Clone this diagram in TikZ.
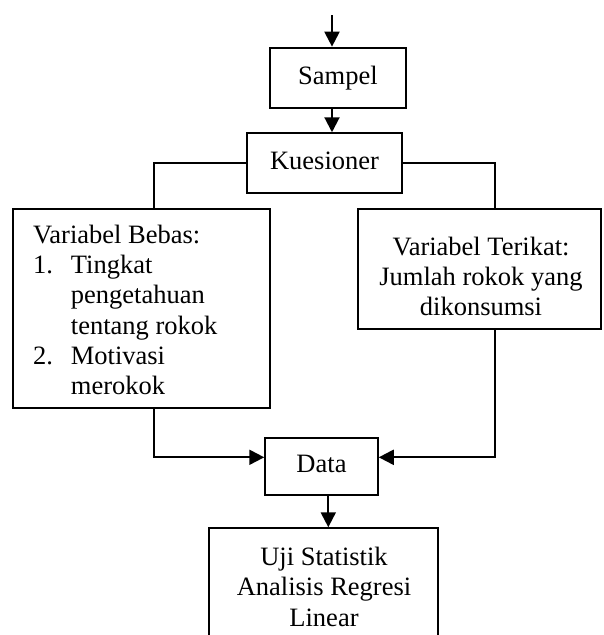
\documentclass[tikz,border=0pt]{standalone}
\usepackage{fontspec}
\setmainfont{Liberation Serif}
\usetikzlibrary{arrows.meta}
\begin{document}
\begin{tikzpicture}[x=1pt,y=-1pt,
  box/.style={draw, line width=2.1pt, inner sep=0pt},
  conn/.style={line width=2.1pt},
  arr/.style={line width=2.1pt, -{Triangle[length=15pt,width=15pt]}},
  lbl/.style={inner sep=0pt, font=\fontsize{26.5}{30.3}\selectfont},
  one/.style={box, font=\fontsize{26.5}{30.3}\selectfont, text height=18pt, text depth=6pt}]
\useasboundingbox (0,0) rectangle (603,635);
% boxes
\node[one, minimum width=135.7pt, minimum height=60.6pt] (sampel) at (337.9,78) {Sampel};
\node[one, minimum width=154.4pt, minimum height=60pt] (kues) at (324.5,163.3) {Kuesioner};
\node[box, minimum width=257.3pt, minimum height=199pt] (bebas) at (141.35,308.8) {};
\node[box, minimum width=242.7pt, minimum height=120pt] (terikat) at (479.65,269.3) {};
\node[one, minimum width=112.4pt, minimum height=56.7pt] (data) at (321.5,466.7) {Data};
\node[box, minimum width=229pt, minimum height=131.7pt] (uji) at (323.8,594.15) {};
% texts
\node[lbl, anchor=base west] (bebastxt) at (33,243.3) {\begin{tabular}[t]{@{}p{37.7pt}@{}l@{}}
\multicolumn{2}{@{}l@{}}{Variabel Bebas:}\\
1. & Tingkat\\
 & pengetahuan\\
 & tentang rokok\\
2. & Motivasi\\
 & merokok
\end{tabular}};
\node[lbl, anchor=base] (terikattxt) at (481,255) {\begin{tabular}[t]{@{}c@{}}
Variabel Terikat:\\
Jumlah rokok yang\\
dikonsumsi
\end{tabular}};
\node[lbl, anchor=base] (ujitxt) at (324,565.5) {\begin{tabular}[t]{@{}c@{}}
Uji Statistik\\
Analisis Regresi\\
Linear
\end{tabular}};
% connectors
\coordinate (top) at (332,15);
\coordinate (jl) at (154,457.3);
\coordinate (jr) at (495,457.3);
\coordinate (dx) at (328.3,0);
\draw[arr] (top) -- (top |- sampel.north);
\draw[arr] (sampel.south -| top) -- (kues.north -| top);
\draw[conn] (kues.west) -| ([xshift=12.65pt]bebas.north);
\draw[conn] (kues.east) -| ([xshift=15.35pt]terikat.north);
\draw[arr] ([xshift=12.65pt]bebas.south) |- (data.west |- jl);
\draw[arr] ([xshift=15.35pt]terikat.south) |- (data.east |- jr);
\draw[arr] (data.south -| dx) -- (uji.north -| dx);
\end{tikzpicture}
\end{document}
